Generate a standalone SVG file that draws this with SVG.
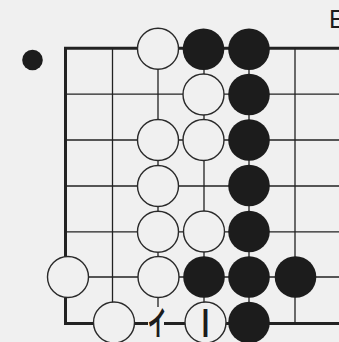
<svg xmlns="http://www.w3.org/2000/svg" width="339" height="342" viewBox="0 0 339 342">
<style>
.edge{fill:none;stroke:#222;stroke-width:3;stroke-linejoin:miter}
.ln{fill:none;stroke:#222;stroke-width:1.3}
.w{fill:#f0f0f0;stroke:#2a2a2a;stroke-width:1.4}
.b{fill:#1c1c1c}
.lbl{font-family:"Liberation Sans",Arial,sans-serif;fill:#1c1c1c}
.cjk{font-family:"Noto Sans CJK JP","Noto Sans CJK SC",sans-serif;fill:#1c1c1c;font-weight:bold}
</style>
<rect x="0" y="0" width="339" height="342" fill="#f0f0f0"/>
<g id="connectors">
<path class="edge" d="M339 48.3 H65.5 V323.5 H339"/>
<path class="ln" d="M112.5 48.3 V323.5 M158 48.3 V323.5 M204 48.3 V323.5 M249 48.3 V323.5 M295 48.3 V323.5"/>
<path class="ln" d="M65.5 94.2 H339 M65.5 140 H339 M65.5 186 H339 M65.5 231.8 H339 M65.5 277 H339"/>
</g>
<circle id="marker-dot" cx="32.5" cy="60" r="10.3" class="b"/>
<text id="label-E" class="lbl" x="329" y="28.3" font-size="25">E</text>
<g id="r0c2"><circle class="w" cx="158" cy="48.8" r="20.5"/></g>
<g id="r0c3"><circle class="b" cx="203.5" cy="49.3" r="20.8"/></g>
<g id="r0c4"><circle class="b" cx="249" cy="49.3" r="20.8"/></g>
<g id="r1c3"><circle class="w" cx="203.5" cy="94.5" r="20.5"/></g>
<g id="r1c4"><circle class="b" cx="249" cy="94.5" r="20.8"/></g>
<g id="r2c2"><circle class="w" cx="158" cy="140" r="20.5"/></g>
<g id="r2c3"><circle class="w" cx="203.5" cy="140" r="20.5"/></g>
<g id="r2c4"><circle class="b" cx="249" cy="140" r="20.8"/></g>
<g id="r3c2"><circle class="w" cx="158" cy="186" r="20.5"/></g>
<g id="r3c4"><circle class="b" cx="249" cy="185.5" r="20.8"/></g>
<g id="r4c2"><circle class="w" cx="158" cy="231.8" r="20.5"/></g>
<g id="r4c3"><circle class="w" cx="204" cy="231.5" r="20.5"/></g>
<g id="r4c4"><circle class="b" cx="249" cy="231.5" r="20.8"/></g>
<g id="r5c0"><circle class="w" cx="68" cy="277" r="20.5"/></g>
<g id="r5c2"><circle class="w" cx="158.5" cy="277" r="20.5"/></g>
<g id="r5c3"><circle class="b" cx="204" cy="277" r="20.8"/></g>
<g id="r5c4"><circle class="b" cx="249" cy="277" r="20.8"/></g>
<g id="r5c5"><circle class="b" cx="295.5" cy="277" r="20.8"/></g>
<g id="r6c1"><circle class="w" cx="114" cy="322.5" r="20.5"/></g>
<g id="r6c2-label"><rect x="148" y="307" width="16" height="35" fill="#f0f0f0"/><text class="cjk" transform="translate(157,335.5) scale(0.55,1)" text-anchor="middle" font-size="34">イ</text></g>
<g id="r6c3"><circle class="w" cx="205.5" cy="322.5" r="20.5"/><text class="lbl" x="205.5" y="336.7" text-anchor="middle" font-size="41">I</text></g>
<g id="r6c4"><circle class="b" cx="249" cy="322.5" r="20.8"/></g>
</svg>
